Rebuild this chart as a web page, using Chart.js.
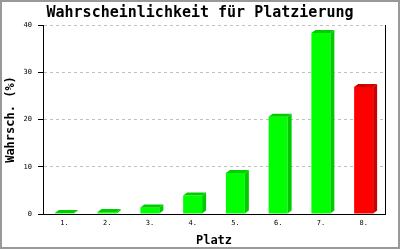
<!DOCTYPE html>
<html><head><meta charset="utf-8">
<script src="https://cdn.jsdelivr.net/npm/chart.js@4"></script>
<style>html,body{margin:0;padding:0;background:#fff}canvas{display:block}</style>
</head><body>
<canvas id="c" width="400" height="250"></canvas>
<script>
const categories = ['1.', '2.', '3.', '4.', '5.', '6.', '7.', '8.'];
const probabilities = [0.2, 0.4, 1.4, 3.9, 8.7, 20.6, 38.3, 26.9];
const frontColors = ['#00ff00', '#00ff00', '#00ff00', '#00ff00', '#00ff00', '#00ff00', '#00ff00', '#ff0000'];
const sideColors = ['#00cc00', '#00cc00', '#00cc00', '#00cc00', '#00cc00', '#00cc00', '#00cc00', '#cc0000'];
const yTicks = [0, 10, 20, 30, 40];

const MONO = "'DejaVu Sans Mono', 'Liberation Mono', monospace";

const bar3d = {
  id: 'bar3d',
  afterDatasetsDraw(chart) {
    const ctx = chart.ctx;
    const meta = chart.getDatasetMeta(0);
    const dx = 4, dy = 3;
    meta.data.forEach((el, i) => {
      const p = el.getProps(['x', 'y', 'base', 'width'], true);
      const l = p.x - p.width / 2, r = p.x + p.width / 2;
      ctx.save();
      ctx.fillStyle = sideColors[i];
      ctx.beginPath();
      ctx.moveTo(r, p.y);
      ctx.lineTo(r + dx, p.y - dy);
      ctx.lineTo(r + dx, p.base - dy);
      ctx.lineTo(r, p.base);
      ctx.closePath();
      ctx.fill();
      ctx.beginPath();
      ctx.moveTo(l, p.y);
      ctx.lineTo(l + dx, p.y - dy);
      ctx.lineTo(r + dx, p.y - dy);
      ctx.lineTo(r, p.y);
      ctx.closePath();
      ctx.fill();
      ctx.restore();
    });
  }
};

const frame = {
  id: 'frame',
  beforeDraw(chart) {
    const ctx = chart.ctx;
    ctx.save();
    ctx.fillStyle = '#fff';
    ctx.fillRect(0, 0, chart.width, chart.height);
    ctx.restore();
  },
  afterDraw(chart) {
    const ctx = chart.ctx;
    ctx.save();
    ctx.fillStyle = '#999';
    ctx.fillRect(0, 0, 400, 2);
    ctx.fillRect(0, 0, 2, 249);
    ctx.fillRect(398, 0, 2, 249);
    ctx.fillRect(0, 247, 400, 2);
    ctx.restore();
  }
};

new Chart(document.getElementById('c'), {
  type: 'bar',
  data: {
    labels: categories,
    datasets: [{
      data: probabilities,
      backgroundColor: frontColors,
      borderWidth: 0,
      barPercentage: 0.444,
      categoryPercentage: 1,
      yAxisID: 'y'
    }]
  },
  options: {
    responsive: false,
    animation: false,
    devicePixelRatio: 1,
    layout: { padding: 0 },
    plugins: {
      legend: { display: false },
      tooltip: { enabled: false },
      title: {
        display: true,
        text: 'Wahrscheinlichkeit für Platzierung',
        color: '#000',
        font: { family: MONO, size: 15, weight: 'bold' },
        padding: { top: 4, bottom: 3 }
      }
    },
    scales: {
      x: {
        grid: { display: false, drawTicks: false },
        border: { display: true, color: '#000' },
        ticks: { color: '#000', font: { family: MONO, size: 7 }, padding: 5 },
        title: { display: true, text: 'Platz', color: '#000', font: { family: MONO, size: 12, weight: 'bold' }, padding: { top: 0, bottom: 2 } },
        afterFit(s) { s.height = 36; }
      },
      y: {
        min: 0, max: 40,
        afterBuildTicks(s) { s.ticks = yTicks.map(v => ({ value: v })); },
        grid: {
          color: c => (c.tick && c.tick.value === 0) ? 'rgba(0,0,0,0)' : '#c0c0c0',
          tickColor: '#000', tickLength: 5
        },
        border: { display: true, color: '#000', dash: [3, 3] },
        ticks: { color: '#000', font: { family: MONO, size: 7 }, padding: 6 },
        title: { display: true, text: 'Wahrsch. (%)', color: '#000', font: { family: MONO, size: 12, weight: 'bold' }, padding: { top: 4, bottom: 0 } },
        afterFit(s) { s.width = 43; }
      },
      y2: {
        position: 'right',
        min: 0, max: 40,
        grid: { display: false, drawTicks: false },
        ticks: { display: false },
        border: { display: true, color: '#000' },
        afterFit(s) { s.width = 15; }
      }
    }
  },
  plugins: [frame, bar3d]
});
</script>
</body></html>
